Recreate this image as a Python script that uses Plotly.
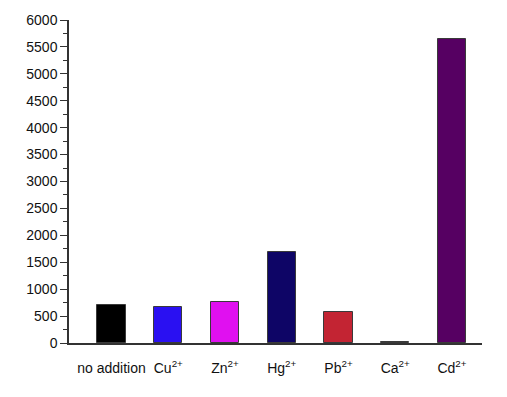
import plotly.graph_objects as go

# Ion labels, measured signal and bar colours
ions = ["no addition", "Cu<sup>2+</sup>", "Zn<sup>2+</sup>", "Hg<sup>2+</sup>",
        "Pb<sup>2+</sup>", "Ca<sup>2+</sup>", "Cd<sup>2+</sup>"]
signal = [700, 665, 770, 1690, 575, 10, 5650]
colors = ["#000000", "#2a10f2", "#e010f0", "#0e0566", "#c32433", "#808080", "#560062"]
y_ticks = [0, 500, 1000, 1500, 2000, 2500, 3000, 3500, 4000, 4500, 5000, 5500, 6000]

fig = go.Figure(go.Bar(
    x=list(range(len(ions))),
    y=signal,
    width=0.5,
    marker=dict(color=colors, line=dict(color="#3a3a3a", width=1)),
))

fig.update_layout(
    width=507, height=397,
    margin=dict(l=69, r=25, t=15, b=54),
    plot_bgcolor="white", paper_bgcolor="white",
    font=dict(family="Liberation Sans, Arial, sans-serif", size=14, color="#111111"),
    showlegend=False,
    bargap=0,
)
fig.update_xaxes(
    range=[-0.75, 6.53],
    tickmode="array", tickvals=list(range(len(ions))), ticktext=ions,
    showline=True, linecolor="#333333", linewidth=1.5,
    ticks="", showgrid=False, zeroline=False,
    ticklabelstandoff=11,
)
fig.update_yaxes(
    range=[0, 6000],
    tickmode="array", tickvals=y_ticks,
    showline=True, linecolor="#333333", linewidth=1.5,
    ticks="outside", ticklen=7, tickcolor="#333333", tickwidth=1.2,
    minor=dict(ticks="outside", ticklen=4, tickcolor="#333333", tickwidth=1, dtick=250, showgrid=False),
    showgrid=False, zeroline=False,
)

fig.write_html("out.html")
